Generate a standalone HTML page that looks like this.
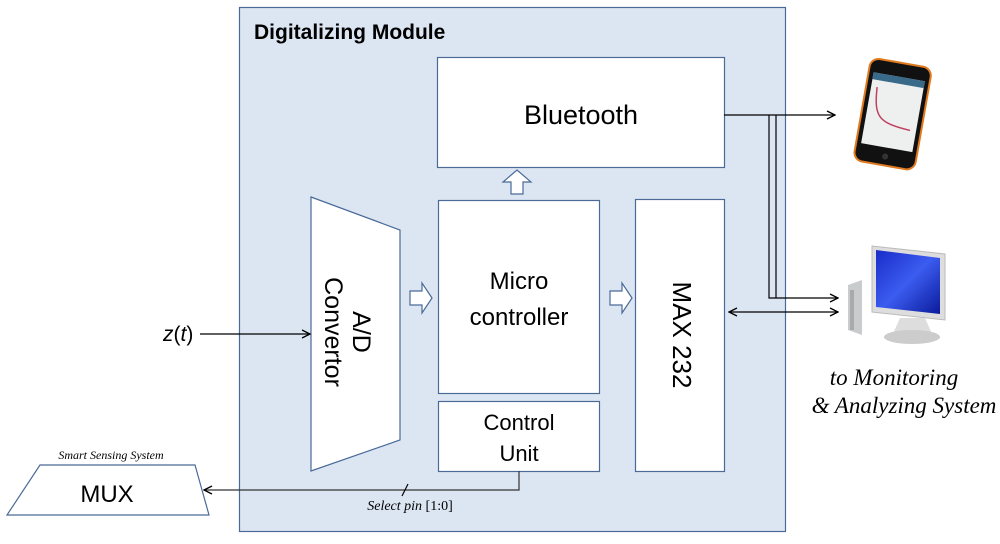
<!DOCTYPE html>
<html><head><meta charset="utf-8"><style>
body{margin:0;background:#fff;width:1000px;height:539px;overflow:hidden}
</style></head><body>
<svg width="1000" height="539" xmlns="http://www.w3.org/2000/svg" font-family="Liberation Sans, sans-serif">
<defs>
<marker id="a" markerWidth="10" markerHeight="10" refX="9" refY="5" orient="auto" markerUnits="userSpaceOnUse"><path d="M1,1 L9,5 L1,9" fill="none" stroke="#000" stroke-width="1.3"/></marker>
<marker id="as" markerWidth="10" markerHeight="10" refX="1" refY="5" orient="auto" markerUnits="userSpaceOnUse"><path d="M9,1 L1,5 L9,9" fill="none" stroke="#000" stroke-width="1.3"/></marker>
<linearGradient id="scr" x1="0" y1="0" x2="1" y2="1"><stop offset="0" stop-color="#1a2cc8"/><stop offset="0.5" stop-color="#3b5cf0"/><stop offset="1" stop-color="#0a1a9a"/></linearGradient>
</defs>
<rect x="239.5" y="7.5" width="546" height="524" fill="#dce6f2" stroke="#4a6a98" stroke-width="1.2"/>
<text x="254" y="39" font-size="21" font-weight="bold" fill="#000">Digitalizing Module</text>
<g fill="#fff" stroke="#4a6a98" stroke-width="1.2">
<rect x="437.5" y="57.5" width="287" height="110"/>
<rect x="438.5" y="200.5" width="161" height="193"/>
<rect x="438.5" y="401.5" width="161" height="70"/>
<rect x="635.5" y="199.5" width="89" height="272"/>
<polygon points="311,197 400,230 400,440 311,471"/>
<polygon points="40,465 195,465 209,515 7,515"/>
<path d="M410,291 h12 v-8 l10,15 l-10,15 v-8 h-12 z"/>
<path d="M610,291 h12 v-8 l10,15 l-10,15 v-8 h-12 z"/>
<path d="M511,194 v-12 h-8 l14,-12 l14,12 h-8 v12 z"/>
</g>
<text x="581" y="124" font-size="27" text-anchor="middle">Bluetooth</text>
<text x="519" y="289" font-size="24" text-anchor="middle">Micro</text>
<text x="519" y="325" font-size="24" text-anchor="middle">controller</text>
<text x="519" y="430" font-size="22" text-anchor="middle">Control</text>
<text x="519" y="461" font-size="22" text-anchor="middle">Unit</text>
<text transform="translate(680,335) rotate(90)" font-size="26" text-anchor="middle" dominant-baseline="middle">MAX 232</text>
<text transform="translate(345,332) rotate(90)" font-size="25" text-anchor="middle"><tspan x="0" y="-8">A/D</tspan><tspan x="0" y="20">Convertor</tspan></text>
<text x="107" y="502" font-size="24" text-anchor="middle">MUX</text>
<text x="111" y="459" font-size="12" font-style="italic" font-family="Liberation Serif, serif" text-anchor="middle">Smart Sensing System</text>
<g stroke="#000" stroke-width="1.2" fill="none">
<path d="M519,471 V490 H204" marker-end="url(#a)" stroke="#333"/>
<line x1="402" y1="496" x2="408" y2="484"/>
<line x1="200" y1="334" x2="310" y2="334" marker-end="url(#a)"/>
<line x1="724" y1="115" x2="835" y2="115" marker-end="url(#a)"/>
<path d="M769,115 V298 H838" marker-end="url(#a)"/>
<path d="M776,115 V298"/>
<line x1="729" y1="312" x2="838" y2="312" marker-start="url(#as)" marker-end="url(#a)"/>
</g>
<text x="410" y="510" font-size="14" font-family="Liberation Serif, serif" text-anchor="middle"><tspan font-style="italic">Select pin</tspan> [1:0]</text>
<text x="163" y="341" font-size="21" font-family="Liberation Sans, sans-serif"><tspan font-style="italic">z</tspan>(<tspan font-style="italic">t</tspan>)</text>
<text x="894" y="385" font-size="23" font-style="italic" font-family="Liberation Serif, serif" text-anchor="middle">to Monitoring</text>
<text x="904" y="413" font-size="23" font-style="italic" font-family="Liberation Serif, serif" text-anchor="middle">&amp; Analyzing System</text>
<!-- phone -->
<g transform="rotate(10 892 112)">
<rect x="862" y="62" width="62" height="104" rx="9" fill="#111" stroke="#e07a20" stroke-width="2"/>
<rect x="867" y="76" width="52" height="72" fill="#eef0f0"/>
<rect x="867" y="76" width="52" height="7" fill="#3a6a8a"/>
<path d="M873,90 C875,120 880,125 913,127" stroke="#c04060" fill="none" stroke-width="1.5"/>
<circle cx="893" cy="157" r="3" fill="#333"/>
</g>
<!-- computer -->
<polygon points="848,285 862,280 862,335 848,330" fill="#c8cccc"/>
<rect x="850" y="290" width="4" height="40" fill="#aaa"/>
<polygon points="872,246 945,254 945,320 872,312" fill="#ddd" stroke="#bbb"/>
<polygon points="876,250 940,258 940,314 876,307" fill="url(#scr)"/>
<path d="M900,318 h25 l8,18 h-41 z" fill="#ddd"/>
<ellipse cx="912" cy="337" rx="28" ry="7" fill="#ccc"/>
</svg>
</body></html>
